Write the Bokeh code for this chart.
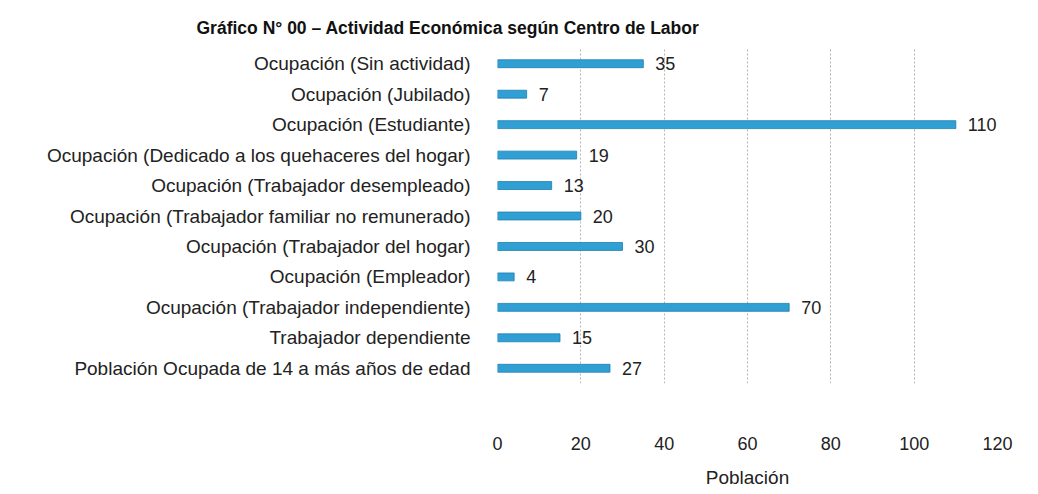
from bokeh.plotting import figure
from bokeh.models import ColumnDataSource, FixedTicker
from bokeh.core.properties import value
from bokeh.embed import file_html
from bokeh.resources import INLINE

categories = [
    "Ocupación (Sin actividad)",
    "Ocupación (Jubilado)",
    "Ocupación (Estudiante)",
    "Ocupación (Dedicado a los quehaceres del hogar)",
    "Ocupación (Trabajador desempleado)",
    "Ocupación (Trabajador familiar no remunerado)",
    "Ocupación (Trabajador del hogar)",
    "Ocupación (Empleador)",
    "Ocupación (Trabajador independiente)",
    "Trabajador dependiente",
    "Población Ocupada de 14 a más años de edad",
]
values = [35, 7, 110, 19, 13, 20, 30, 4, 70, 15, 27]
x_ticks = [0, 20, 40, 60, 80, 100, 120]
title_text = "Gráfico N° 00 – Actividad Económica según Centro de Labor"
x_label = "Población"

FONT = "Liberation Sans"
W, H = 1030, 490
BL, BR, BT, BB = 497, 33, 48, 105

src = ColumnDataSource(dict(cat=categories, val=values, lab=[str(v) for v in values]))

p = figure(
    y_range=list(reversed(categories)),
    x_range=(0, 120),
    width=W, height=H,
    output_backend="svg", toolbar_location=None,
    min_border_left=BL, min_border_right=BR,
    min_border_top=BT, min_border_bottom=BB,
    title=title_text,
)
p.outline_line_color = None
p.background_fill_color = "white"
p.border_fill_color = "white"

p.title.align = "left"
p.title.offset = -301
p.title.text_font = FONT
p.title.text_font_size = "17.5px"
p.title.text_font_style = "bold"
p.title.text_color = "#111111"
p.title.standoff = 22

p.hbar(y="cat", right="val", left=0, height=0.26, source=src,
       fill_color="#2f9fd4", line_color="#1f7fae", line_width=0.8)

p.text(x="val", y="cat", text="lab", source=src, x_offset=12,
       text_font=value(FONT), text_font_size="18px", text_color="#222222",
       text_baseline="middle", text_align="left")

p.xaxis.ticker = FixedTicker(ticks=x_ticks)
p.xaxis.axis_line_color = None
p.xaxis.major_tick_line_color = None
p.xaxis.minor_tick_line_color = None
p.xaxis.major_label_standoff = 47
p.xaxis.major_label_text_font = FONT
p.xaxis.major_label_text_font_size = "18px"
p.xaxis.major_label_text_color = "#222222"
p.xaxis.axis_label = x_label
p.xaxis.axis_label_standoff = 14
p.xaxis.axis_label_text_font = FONT
p.xaxis.axis_label_text_font_size = "19px"
p.xaxis.axis_label_text_font_style = "normal"
p.xaxis.axis_label_text_color = "#222222"

p.yaxis.axis_line_color = None
p.yaxis.major_tick_line_color = None
p.yaxis.minor_tick_line_color = None
p.yaxis.major_label_standoff = 21
p.yaxis.major_label_text_font = FONT
p.yaxis.major_label_text_font_size = "19px"
p.yaxis.major_label_text_color = "#222222"

p.ygrid.grid_line_color = None
p.xgrid.grid_line_color = "#b5b5b5"
p.xgrid.grid_line_dash = "2 2"
p.xgrid.grid_line_width = 1

open("out.html", "w").write(file_html(p, INLINE))
